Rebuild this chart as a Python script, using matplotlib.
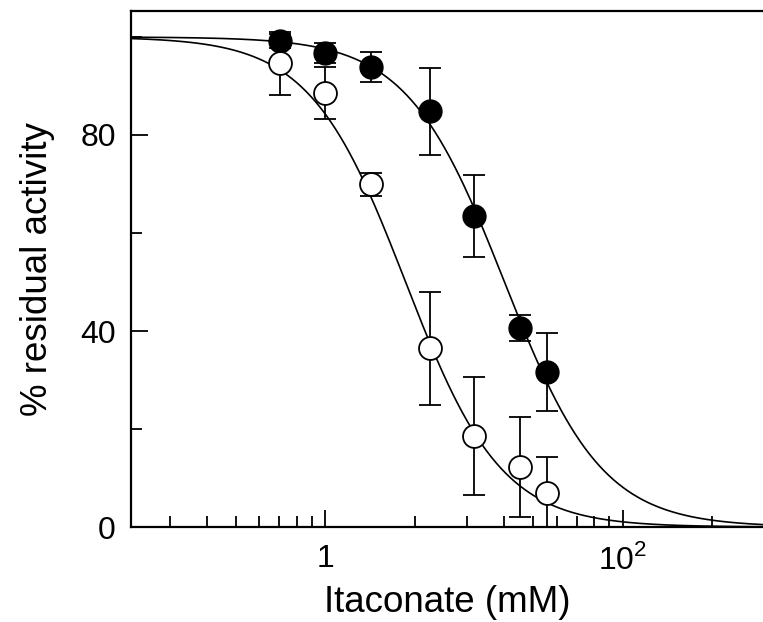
import numpy as np
import matplotlib
matplotlib.use("Agg")
import matplotlib.pyplot as plt

plt.rcParams['font.family'] = ['Liberation Sans', 'DejaVu Sans']
plt.rcParams['mathtext.fontset'] = 'custom'
plt.rcParams['mathtext.rm'] = 'Liberation Sans'

# itaconate concentration, % residual activity, error
conc = [7.05, 10.0, 14.2, 22.4, 31.6, 45.0, 55.5]
filled_y = [99.2, 96.7, 93.9, 84.8, 63.5, 40.6, 31.6]
filled_err = [1.5, 2.0, 3.0, 8.8, 8.4, 2.7, 8.0]
open_y = [94.6, 88.6, 69.9, 36.5, 18.6, 12.2, 7.0]
open_err = [6.4, 5.3, 2.4, 11.5, 12.1, 10.2, 7.3]

# fitted dose-response curves (top, ic50, hill)
fit_filled = (100.0, 40.0, 2.65)
fit_open = (100.0, 18.6, 2.7)

xticks = [10, 100]
xticklabels = ["1", "10$^2$"]
yticks = [0, 40, 80]
yminor = [20, 60, 100]

def hill(x, p):
    top, ic50, h = p
    return top / (1 + (x / ic50) ** h)

fig = plt.figure(figsize=(7.63, 6.22), dpi=100)
ax = fig.add_axes([0.1717, 0.1527, 0.8283, 0.8296])

xs = np.logspace(np.log10(2.2), np.log10(300), 400)
ax.plot(xs, hill(xs, fit_filled), color='black', lw=1.2, zorder=2)
ax.plot(xs, hill(xs, fit_open), color='black', lw=1.2, zorder=2)

ax.errorbar(conc, filled_y, yerr=filled_err, fmt='o', color='black', ms=16.5,
            mfc='black', mec='black', ecolor='black', elinewidth=1.3,
            capsize=8, capthick=1.3, zorder=3)
ax.errorbar(conc, open_y, yerr=open_err, fmt='o', color='black', ms=16.5,
            mfc='white', mec='black', mew=1.3, ecolor='black', elinewidth=1.3,
            capsize=8, capthick=1.3, zorder=3)

ax.set_xscale('log')
ax.set_xlim(2.22, 296)
ax.set_ylim(0, 105.3)

ax.set_xticks(xticks)
ax.set_xticklabels(xticklabels)
ax.set_yticks(yticks)
ax.set_yticks(yminor, minor=True)

ax.tick_params(which='both', direction='in', width=1.3, labelsize=23)
ax.tick_params(which='major', length=12)
ax.tick_params(which='minor', length=8)
ax.tick_params(axis='x', which='major', pad=12)
ax.tick_params(axis='y', which='major', pad=11)

for s in ['left', 'bottom', 'top']:
    ax.spines[s].set_linewidth(1.6)
ax.spines['right'].set_visible(False)

ax.set_xlabel("Itaconate (mM)", fontsize=26.5, labelpad=7)
ax.set_ylabel("% residual activity", fontsize=26.5, labelpad=18)

fig.savefig("out.png", dpi=100)
